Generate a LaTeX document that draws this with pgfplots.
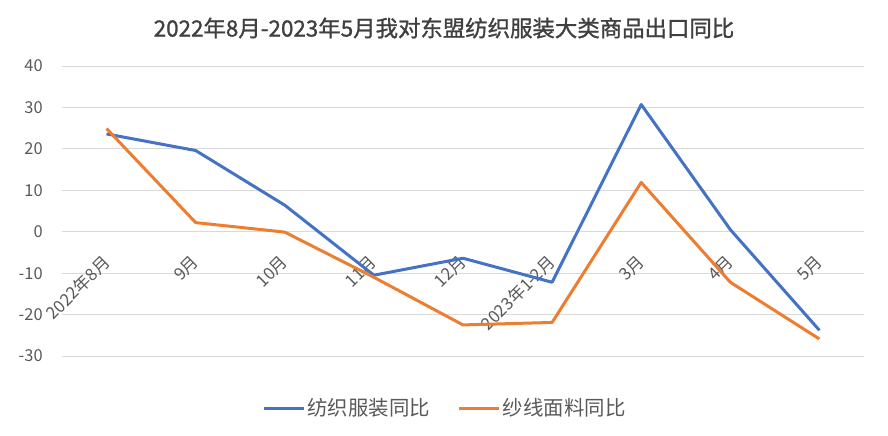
\documentclass[border=0pt]{standalone}
\usepackage{fontspec}
\setmainfont{Noto Sans CJK SC}
\usepackage{pgfplots}
\pgfplotsset{compat=1.18}

\definecolor{serblue}{HTML}{4472C4}
\definecolor{serorange}{HTML}{ED7D31}
\definecolor{gridgray}{HTML}{D9D9D9}
\definecolor{txtgray}{HTML}{595959}
\definecolor{ttlgray}{HTML}{404040}

\begin{document}
\begin{tikzpicture}
\useasboundingbox (0,0) rectangle (888bp,436bp);
\begin{axis}[
  at={(62bp,80bp)}, anchor=south west,
  scale only axis, width=802bp, height=290bp,
  xmin=-0.5, xmax=8.5, ymin=-30, ymax=40,
  axis x line=middle, axis y line=left,
  axis line style={draw=none}, tick style={draw=none},
  xtick={0,...,8},
  xticklabels={2022年8月,9月,10月,11月,12月,2023年1-2月,3月,4月,5月},
  ytick={-30,-20,...,40},
  ymajorgrids, grid style={gridgray, line width=1bp},
  /pgf/number format/assume math mode=true,
  ticklabel style={font=\fontsize{16.5}{18}\selectfont, text=txtgray},
  xticklabel style={yshift=-25bp, rotate=45, anchor=east, inner sep=0pt, font=\fontsize{17}{19}\selectfont},
  yticklabel style={anchor=east, inner sep=0pt, xshift=-17bp},
  title={2022年8月-2023年5月我对东盟纺织服装大类商品出口同比},
  title style={at={(0.5,1)}, anchor=center, yshift=32bp, xshift=-19bp,
    font=\fontsize{22.5}{26}\selectfont\addfontfeature{FakeBold=1.2}, text=ttlgray},
  legend columns=2,
  legend style={at={(0.5,0)}, anchor=center, yshift=-52bp, xshift=-18bp,
    draw=none, fill=none, font=\fontsize{20.5}{23}\selectfont, text=txtgray,
    /tikz/every even column/.append style={column sep=26bp},
    nodes={inner sep=2bp}},
  legend image code/.code={\draw[#1] (0bp,0bp) -- (40bp,0bp);},
  every axis plot/.append style={line width=3bp, line join=round},
  clip=false,
]
\addplot[serblue] coordinates {
(0,23.6) (1,19.6) (2,6.4) (3,-10.5) (4,-6.4) (5,-12.2) (6,30.7) (7,0.5) (8,-23.8)
};
\addlegendentry{纺织服装同比}
\addplot[serorange] coordinates {
(0,24.9) (1,2.2) (2,-0.1) (3,-11.0) (4,-22.5) (5,-21.9) (6,11.9) (7,-12.2) (8,-25.9)
};
\addlegendentry{纱线面料同比}
\end{axis}
\end{tikzpicture}
\end{document}
